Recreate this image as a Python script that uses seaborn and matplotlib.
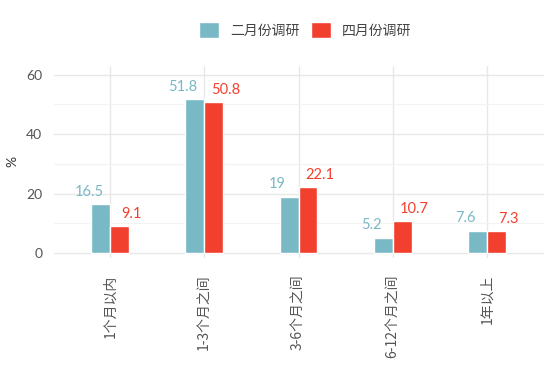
import numpy as np
import pandas as pd
import seaborn as sns
import matplotlib.pyplot as plt
from matplotlib.patches import Patch
from matplotlib.ticker import MultipleLocator

# data
categories = ["1个月以内", "1-3个月之间", "3-6个月之间", "6-12个月之间", "1年以上"]
feb = [16.5, 51.8, 19, 5.2, 7.6]
apr = [9.1, 50.8, 22.1, 10.7, 7.3]
series = ["二月份调研", "四月份调研"]
feb_labels = ["16.5", "51.8", "19", "5.2", "7.6"]
apr_labels = ["9.1", "50.8", "22.1", "10.7", "7.3"]

teal = "#78b9c5"
red = "#f2402f"

sns.set_theme(style="white")
plt.rcParams['font.family'] = ['Lato', 'Noto Sans CJK SC', 'DejaVu Sans']

df = pd.DataFrame({
    "cat": categories * 2,
    "val": feb + apr,
    "series": [series[0]] * 5 + [series[1]] * 5,
})

fig = plt.figure(figsize=(5.5, 3.67), dpi=100)
ax = fig.add_axes([0.0973, 0.298, 0.891, 0.523])

sns.barplot(data=df, x="cat", y="val", hue="series", palette=[teal, red],
            width=0.4, gap=0, saturation=1, legend=False, ax=ax, zorder=2)

# value labels, dodged wider than bars
idx = np.arange(len(categories))
for i in idx:
    ax.text(i - 0.225, feb[i] + 1.8, feb_labels[i], color=teal, ha="center",
            va="bottom", fontsize=10.5, zorder=3)
    ax.text(i + 0.225, apr[i] + 1.8, apr_labels[i], color=red, ha="center",
            va="bottom", fontsize=10.5, zorder=3)

ax.set_xlim(-0.6, 4.6)
ax.set_ylim(-1.5, 63)
ax.yaxis.set_major_locator(MultipleLocator(20))
ax.yaxis.set_minor_locator(MultipleLocator(10))
ax.grid(True, which="major", color="#e8e8e8", linewidth=1.0, zorder=0)
ax.grid(True, which="minor", axis="y", color="#f3f3f3", linewidth=0.9, zorder=0)
ax.set_axisbelow(True)
for s in ax.spines.values():
    s.set_visible(False)

ax.set_xlabel("")
ax.set_ylabel("%", fontsize=10, color="#333333", labelpad=6)
ax.tick_params(axis="x", labelrotation=90, labelsize=10, colors="#555555",
               length=0, pad=12)
ax.tick_params(axis="y", labelsize=10, colors="#555555", length=0, pad=8)
for t in ax.get_xticklabels():
    t.set_family(['Noto Sans CJK SC', 'DejaVu Sans'])
    t.set_va("top")

handles = [Patch(facecolor=teal, label=series[0]),
           Patch(facecolor=red, label=series[1])]
fig.legend(handles=handles, loc="center", bbox_to_anchor=(0.555, 0.918),
           ncol=2, frameon=False, handlelength=1.45,
           handleheight=1.45, handletextpad=0.8, columnspacing=0.8,
           labelcolor="#444444", prop={'family': ['Noto Sans CJK SC'], 'size': 10})

fig.savefig("out.png", dpi=100)
